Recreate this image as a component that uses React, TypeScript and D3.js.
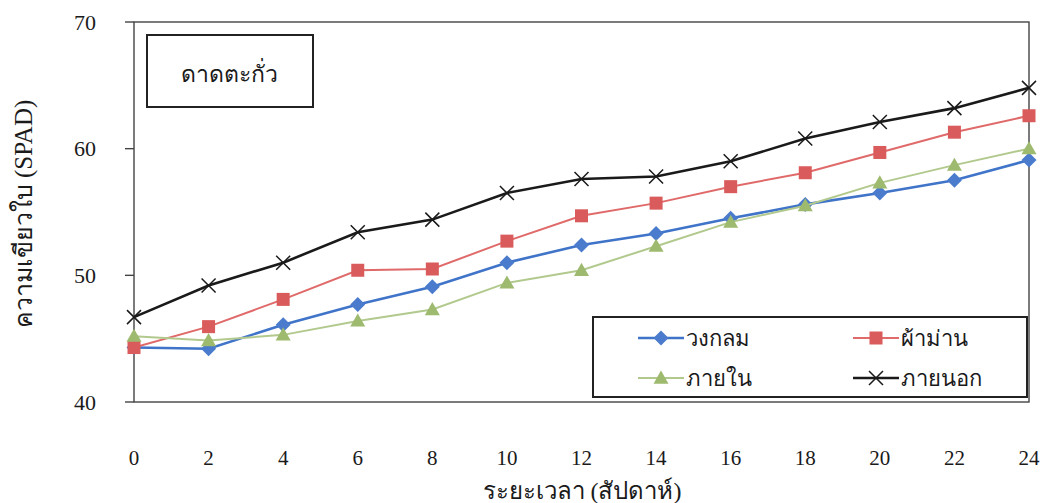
import React from "react";
import * as d3 from "d3";

const weeks = [0, 2, 4, 6, 8, 10, 12, 14, 16, 18, 20, 22, 24];
const yTicks = [40, 50, 60, 70];
const circleVals = [44.3, 44.2, 46.1, 47.7, 49.1, 51.0, 52.4, 53.3, 54.5, 55.6, 56.5, 57.5, 59.1];
const curtainVals = [44.3, 45.95, 48.1, 50.4, 50.5, 52.7, 54.7, 55.7, 57.0, 58.1, 59.7, 61.3, 62.6];
const insideVals = [45.2, 44.85, 45.3, 46.4, 47.3, 49.4, 50.4, 52.3, 54.2, 55.5, 57.3, 58.7, 60.0];
const outsideVals = [46.7, 49.2, 51.0, 53.4, 54.4, 56.5, 57.6, 57.8, 59.0, 60.8, 62.1, 63.2, 64.8];
const seriesNames = ["วงกลม", "ผ้าม่าน", "ภายใน", "ภายนอก"];
const chartLabel = "ดาดตะกั่ว";
const yTitle = "ความเขียวใบ (SPAD)";
const xTitle = "ระยะเวลา (สัปดาห์)";

const W = 1046, H = 503;
const L = 134, R = 1029, T = 22, B = 402;
const font = "'Liberation Serif', 'DejaVu Serif', serif";

type Kind = "diamond" | "square" | "triangle" | "x";
const series: { name: string; vals: number[]; line: string; fill: string; width: number; kind: Kind }[] = [
  { name: seriesNames[0], vals: circleVals, line: "#3f74c9", fill: "#4a7bcc", width: 2.6, kind: "diamond" },
  { name: seriesNames[1], vals: curtainVals, line: "#e06a6a", fill: "#d95b5b", width: 2, kind: "square" },
  { name: seriesNames[2], vals: insideVals, line: "#b2c98e", fill: "#9dba6e", width: 2, kind: "triangle" },
  { name: seriesNames[3], vals: outsideVals, line: "#1a1a1a", fill: "#1a1a1a", width: 2.6, kind: "x" },
];

function Marker({ kind, x, y, fill }: { kind: Kind; x: number; y: number; fill: string }) {
  if (kind === "diamond") {
    const s = 7.5;
    return <path d={`M${x},${y - s}L${x + s},${y}L${x},${y + s}L${x - s},${y}Z`} fill={fill} />;
  }
  if (kind === "square") {
    const s = 6.5;
    return <rect x={x - s} y={y - s} width={2 * s} height={2 * s} fill={fill} />;
  }
  if (kind === "triangle") {
    const s = 7.5;
    return <path d={`M${x},${y - s}L${x + s},${y + s * 0.75}L${x - s},${y + s * 0.75}Z`} fill={fill} />;
  }
  const s = 7;
  return (
    <path d={`M${x - s},${y - s}L${x + s},${y + s}M${x - s},${y + s}L${x + s},${y - s}`} stroke={fill} strokeWidth={1.5} fill="none" />
  );
}

export default function App() {
  const x = d3.scaleLinear().domain([0, 24]).range([L, R]);
  const y = d3.scaleLinear().domain([40, 70]).range([B, T]);
  const line = d3
    .line<number>()
    .x((_, i) => x(weeks[i]))
    .y((v) => y(v));

  const legendPos = [
    { lx: 638, ly: 338 },
    { lx: 853, ly: 338 },
    { lx: 638, ly: 378 },
    { lx: 853, ly: 378 },
  ];

  return (
    <div style={{ position: "absolute", left: 0, top: 0 }}>
      <svg width={W} height={H} style={{ display: "block", background: "#fff" }}>
        {/* plot frame */}
        <rect x={L} y={T} width={R - L} height={B - T} fill="none" stroke="#444" strokeWidth={1.4} />
        {yTicks.map((t) => (
          <g key={t}>
            <line x1={L - 9} x2={L} y1={y(t)} y2={y(t)} stroke="#444" strokeWidth={1.4} />
            <text x={L - 49} y={y(t)} dy="0.35em" textAnchor="middle" fontFamily={font} fontSize={22} fill="#1a1a1a">
              {t}
            </text>
          </g>
        ))}
        {weeks.map((w) => (
          <text key={w} x={x(w)} y={458} dy="0.35em" textAnchor="middle" fontFamily={font} fontSize={21} fill="#1a1a1a">
            {w}
          </text>
        ))}
        <text x={582} y={491} dy="0.35em" textAnchor="middle" fontFamily={font} fontSize={24} fill="#1a1a1a">
          {xTitle}
        </text>
        <text
          transform={`translate(23,${214}) rotate(-90)`}
          textAnchor="middle"
          dy="0.35em"
          fontFamily={font}
          fontSize={25}
          fill="#1a1a1a"
        >
          {yTitle}
        </text>

        {/* inset label */}
        <rect x={147} y={35} width={166} height={72} fill="#fff" stroke="#222" strokeWidth={2} />
        <text x={229} y={74} dy="0.35em" textAnchor="middle" fontFamily={font} fontSize={23} fill="#1a1a1a">
          {chartLabel}
        </text>

        {/* series */}
        {series.map((s) => (
          <g key={s.name}>
            <path d={line(s.vals) || ""} fill="none" stroke={s.line} strokeWidth={s.width} />
            {s.vals.map((v, i) => (
              <Marker key={i} kind={s.kind} x={x(weeks[i])} y={y(v)} fill={s.fill} />
            ))}
          </g>
        ))}

        {/* legend */}
        <rect x={593} y={317} width={434} height={80} fill="#fff" stroke="#222" strokeWidth={2} />
        {series.map((s, i) => {
          const p = legendPos[i];
          return (
            <g key={s.name}>
              <line x1={p.lx} x2={p.lx + 46} y1={p.ly} y2={p.ly} stroke={s.line} strokeWidth={s.width} />
              <Marker kind={s.kind} x={p.lx + 23} y={p.ly} fill={s.fill} />
              <text x={p.lx + 48} y={p.ly} dy="0.35em" fontFamily={font} fontSize={22} fill="#1a1a1a">
                {s.name}
              </text>
            </g>
          );
        })}
      </svg>
    </div>
  );
}
